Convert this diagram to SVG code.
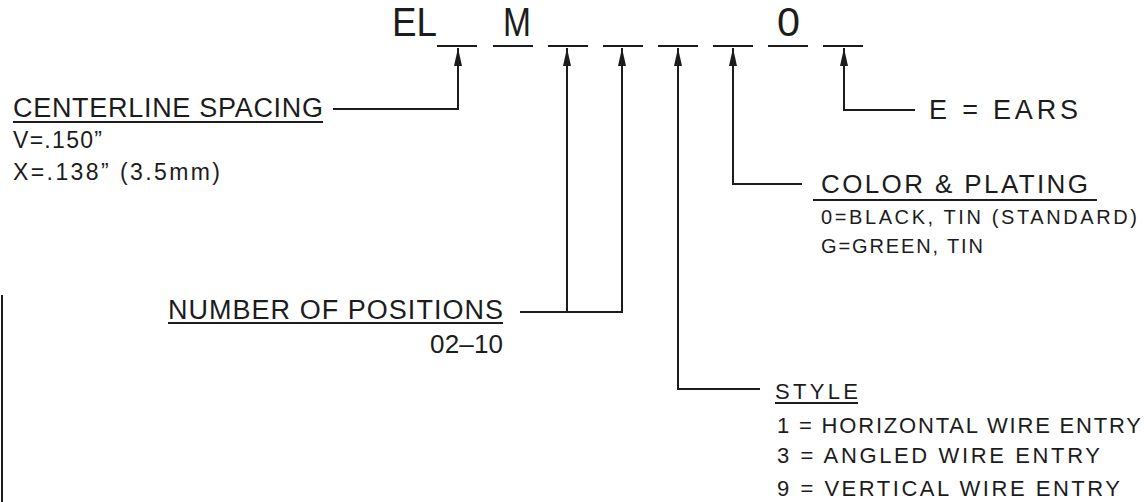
<svg xmlns="http://www.w3.org/2000/svg" width="1144" height="502" viewBox="0 0 1144 502">
<defs>
<style>
.t{font-family:"Liberation Sans",Arial,sans-serif;fill:#1c1c1c;}
.ln{stroke:#1c1c1c;stroke-width:2;fill:none;}
</style>
<marker id="arr" markerUnits="userSpaceOnUse" markerWidth="18" markerHeight="10" viewBox="0 0 18 10" refX="18" refY="5" orient="auto-start-reverse">
<path d="M0,1 L18,5 L0,9 Z" fill="#1c1c1c"/>
</marker>
</defs>
<rect width="1144" height="502" fill="#ffffff"/>

<g id="partnumber">
<text class="t" x="392" y="36" font-size="40" textLength="45" lengthAdjust="spacingAndGlyphs">EL</text>
<text class="t" x="503" y="36" font-size="40" textLength="28" lengthAdjust="spacingAndGlyphs">M</text>
<text class="t" x="777" y="36" font-size="40" textLength="23" lengthAdjust="spacingAndGlyphs">0</text>
<path class="ln" d="M437,46H477M493,46H533M548,46H588M603,46H643M658,46H698M713,46H753M768,46H808M823,46H863"/>
</g>

<g id="connectors">
<path class="ln" d="M458,48V109H333" marker-start="url(#arr)"/>
<path class="ln" d="M567,48V312" marker-start="url(#arr)"/>
<path class="ln" d="M622,48V312H520" marker-start="url(#arr)"/>
<path class="ln" d="M678,48V389H760" marker-start="url(#arr)"/>
<path class="ln" d="M733,48V184H802" marker-start="url(#arr)"/>
<path class="ln" d="M844,48V110H915" marker-start="url(#arr)"/>
<path class="ln" d="M2,295V502"/>
</g>

<g id="centerline">
<text class="t" x="13" y="117" font-size="27" textLength="310" lengthAdjust="spacing">CENTERLINE SPACING</text>
<path class="ln" d="M13,122H323"/>
<text class="t" x="13" y="148" font-size="23" textLength="89" lengthAdjust="spacing">V=.150”</text>
<text class="t" x="13" y="180" font-size="23" textLength="207" lengthAdjust="spacing">X=.138” (3.5mm)</text>
</g>

<g id="ears">
<text class="t" x="929" y="119" font-size="27" textLength="149" lengthAdjust="spacing">E = EARS</text>
</g>

<g id="color">
<text class="t" x="821" y="193" font-size="26" textLength="267" lengthAdjust="spacing">COLOR &amp; PLATING</text>
<path class="ln" d="M813,200H1097"/>
<text class="t" x="821" y="224" font-size="20" textLength="316" lengthAdjust="spacing">0=BLACK, TIN (STANDARD)</text>
<text class="t" x="821" y="253" font-size="20" textLength="162" lengthAdjust="spacing">G=GREEN, TIN</text>
</g>

<g id="positions">
<text class="t" x="168" y="319" font-size="27" textLength="335" lengthAdjust="spacing">NUMBER OF POSITIONS</text>
<path class="ln" d="M168,323H503"/>
<text class="t" x="430" y="353" font-size="26" textLength="73" lengthAdjust="spacing">02–10</text>
</g>

<g id="style">
<text class="t" x="775" y="399" font-size="22" textLength="83" lengthAdjust="spacing">STYLE</text>
<path class="ln" d="M775,403H858"/>
<text class="t" x="777" y="433" font-size="22" textLength="364" lengthAdjust="spacing">1 = HORIZONTAL WIRE ENTRY</text>
<text class="t" x="777" y="463" font-size="22" textLength="323" lengthAdjust="spacing">3 = ANGLED WIRE ENTRY</text>
<text class="t" x="777" y="496" font-size="22" textLength="343" lengthAdjust="spacing">9 = VERTICAL WIRE ENTRY</text>
</g>
</svg>
